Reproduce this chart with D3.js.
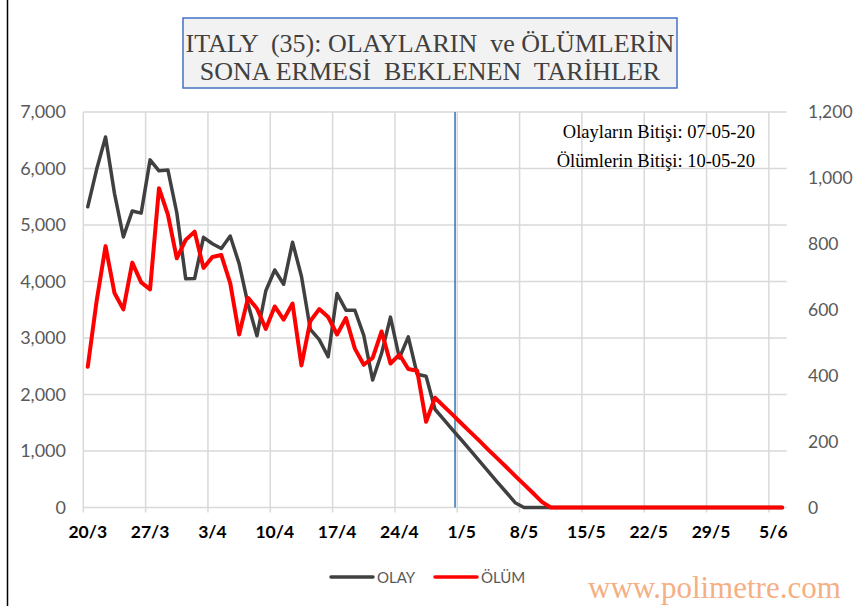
<!DOCTYPE html>
<html>
<head>
<meta charset="utf-8">
<script src="https://cdn.jsdelivr.net/npm/d3@7"></script>
<style>
  body { margin: 0; background: #fff; }
  svg { display: block; }
</style>
</head>
<body>
<div id="chart"></div>
<script>
const width = 857
const height = 606

// categories: one per day, 20/3 .. 6/6
const startDay = new Date(Date.UTC(2020, 2, 20))
const endDay = new Date(Date.UTC(2020, 5, 7))
const days = d3.utcDay.range(startDay, endDay)

// tick labels every 7 days
const tickLabels = ['20/3', '27/3', '3/4', '10/4', '17/4', '24/4', '1/5', '8/5', '15/5', '22/5', '29/5', '5/6']

// OLAY (left axis), projection after 27/4 included
const olay = [
	5322, 5986, 6557, 5560, 4789, 5249, 5210, 6153, 5959, 5974,
	5217, 4050, 4053, 4782, 4668, 4585, 4805, 4316, 3599, 3039,
	3836, 4204, 3951, 4694, 4092, 3153, 2972, 2667, 3786, 3493,
	3491, 3047, 2256, 2729, 3370, 2646, 3021, 2357, 2324, 1739,
	1555, 1370, 1190, 1005, 820, 635, 450, 270, 85, 0,
	0, 0, 0, 0, 0, 0, 0, 0, 0, 0,
	0, 0, 0, 0, 0, 0, 0, 0, 0, 0,
	0, 0, 0, 0, 0, 0, 0, 0, 0,
]

// ÖLÜM (right axis)
const olum = [
	427, 627, 793, 651, 601, 743, 683, 662, 969, 889,
	756, 812, 837, 727, 760, 766, 681, 525, 636, 604,
	542, 610, 570, 619, 431, 566, 602, 578, 525, 575,
	482, 433, 454, 534, 437, 464, 420, 415, 260, 333,
	307, 281, 254, 228, 202, 175, 149, 123, 96, 70,
	44, 17, 0, 0, 0, 0, 0, 0, 0, 0,
	0, 0, 0, 0, 0, 0, 0, 0, 0, 0,
	0, 0, 0, 0, 0, 0, 0, 0, 0,
]

const leftTicks = [0, 1000, 2000, 3000, 4000, 5000, 6000, 7000]
const rightTicks = [0, 200, 400, 600, 800, 1000, 1200]

const titleLines = ['ITALY  (35): OLAYLARIN  ve ÖLÜMLERİN', 'SONA ERMESİ  BEKLENEN  TARİHLER']
const notes = ['Olayların Bitişi: 07-05-20', 'Ölümlerin Bitişi: 10-05-20']
const todayPos = 41.25 // blue marker line, in day units

const plot = { left: 83.3, right: 786.7, top: 112, bottom: 507.5 }

const svg = d3
	.create('svg')
	.attr('width', width)
	.attr('height', height)
	.attr('viewBox', [0, 0, width, height])

// ? linear day scale so the marker line can sit between days
const x = d3
	.scaleLinear()
	.domain([-0.5, days.length - 0.5])
	.range([plot.left, plot.right])
const yL = d3.scaleLinear().domain([0, 7000]).range([plot.bottom, plot.top])
const yR = d3.scaleLinear().domain([0, 1200]).range([plot.bottom, plot.top])

const labelFont = 'Lato, "Open Sans", sans-serif'
const serif = '"Liberation Serif", "Times New Roman", serif'

// left chart border
svg.append('line')
	.attr('x1', 7.5).attr('x2', 7.5)
	.attr('y1', 0).attr('y2', height)
	.attr('stroke', '#000').attr('stroke-width', 1.5)

// ? horizontal gridlines
svg.append('g')
	.selectAll('line')
	.data(leftTicks)
	.join('line')
	.attr('x1', plot.left)
	.attr('x2', plot.right)
	.attr('y1', (d) => yL(d))
	.attr('y2', (d) => yL(d))
	.attr('stroke', '#d9d9d9')
	.attr('stroke-width', 1.5)

// ? vertical gridlines at week boundaries + small ticks under the axis
const weekIdx = d3.range(0, days.length, 7)
svg.append('g')
	.selectAll('line')
	.data(weekIdx)
	.join('line')
	.attr('x1', (i) => x(i - 0.5))
	.attr('x2', (i) => x(i - 0.5))
	.attr('y1', plot.top)
	.attr('y2', plot.bottom + 5)
	.attr('stroke', '#d9d9d9')
	.attr('stroke-width', 1.5)

// left axis labels
svg.append('g')
	.selectAll('text')
	.data(leftTicks)
	.join('text')
	.attr('x', 66)
	.attr('y', (d) => yL(d) + 6)
	.attr('text-anchor', 'end')
	.attr('font-family', labelFont)
	.attr('font-size', 18)
	.attr('fill', '#595959')
	.text((d) => d3.format(',')(d))

// right axis labels
svg.append('g')
	.selectAll('text')
	.data(rightTicks)
	.join('text')
	.attr('x', 808)
	.attr('y', (d) => yR(d) + 6)
	.attr('text-anchor', 'start')
	.attr('font-family', labelFont)
	.attr('font-size', 17.5)
	.attr('fill', '#595959')
	.text((d) => d3.format(',')(d))

// x labels
svg.append('g')
	.selectAll('text')
	.data(tickLabels)
	.join('text')
	.attr('x', (d, k) => x(weekIdx[k]))
	.attr('y', 538)
	.attr('text-anchor', 'middle')
	.attr('font-family', labelFont)
	.attr('font-weight', 'bold')
	.attr('font-size', 17.5)
	.attr('fill', '#000')
	.text((d) => d)

// blue marker
svg.append('line')
	.attr('x1', x(todayPos)).attr('x2', x(todayPos))
	.attr('y1', plot.top).attr('y2', plot.bottom)
	.attr('stroke', '#2e75b6')
	.attr('stroke-width', 1.5)

const lineL = d3.line().x((d, i) => x(i)).y((d) => yL(d))
const lineR = d3.line().x((d, i) => x(i)).y((d) => yR(d))

svg.append('path')
	.attr('d', lineL(olay))
	.attr('fill', 'none')
	.attr('stroke', '#404040')
	.attr('stroke-width', 3.5)
	.attr('stroke-linejoin', 'round')
	.attr('stroke-linecap', 'round')

svg.append('path')
	.attr('d', lineR(olum))
	.attr('fill', 'none')
	.attr('stroke', '#ff0000')
	.attr('stroke-width', 4)
	.attr('stroke-linejoin', 'round')
	.attr('stroke-linecap', 'round')

// notes top right
svg.append('g')
	.selectAll('text')
	.data(notes)
	.join('text')
	.attr('x', 755)
	.attr('y', (d, i) => 138 + i * 29)
	.attr('text-anchor', 'end')
	.attr('font-family', serif)
	.attr('font-size', 18.5)
	.attr('fill', '#000')
	.text((d) => d)

// title box
svg.append('rect')
	.attr('x', 183).attr('y', 18)
	.attr('width', 494).attr('height', 70)
	.attr('fill', '#f2f2f2')
	.attr('stroke', '#4472c4')
	.attr('stroke-width', 1.5)

svg.append('g')
	.selectAll('text')
	.data(titleLines)
	.join('text')
	.attr('x', 430)
	.attr('y', (d, i) => 52 + i * 28)
	.attr('text-anchor', 'middle')
	.attr('font-family', serif)
	.attr('font-size', 26)
	.attr('fill', '#404040')
	.attr('xml:space', 'preserve')
	.style('white-space', 'pre')
	.text((d) => d)

// legend
const legend = [
	{ name: 'OLAY', color: '#404040', x: 331 },
	{ name: 'ÖLÜM', color: '#ff0000', x: 435 },
]
const lg = svg.append('g').selectAll('g').data(legend).join('g')
lg.append('line')
	.attr('x1', (d) => d.x).attr('x2', (d) => d.x + 42)
	.attr('y1', 577).attr('y2', 577)
	.attr('stroke', (d) => d.color)
	.attr('stroke-width', 3.5)
	.attr('stroke-linecap', 'round')
lg.append('text')
	.attr('x', (d) => d.x + 46)
	.attr('y', 583)
	.attr('font-family', labelFont)
	.attr('font-size', 15)
	.attr('fill', '#595959')
	.text((d) => d.name)

// watermark
svg.append('text')
	.attr('x', 588)
	.attr('y', 598)
	.attr('font-family', serif)
	.attr('font-size', 31)
	.attr('fill', '#f4b084')
	.text('www.polimetre.com')

document.getElementById('chart').appendChild(svg.node())
</script>
</body>
</html>
